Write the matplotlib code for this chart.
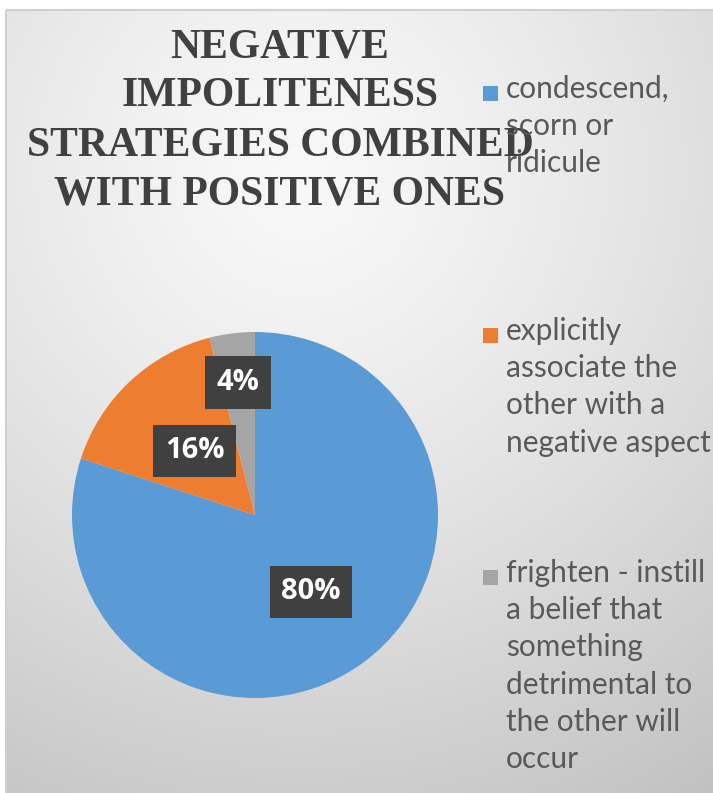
import numpy as np
import matplotlib.pyplot as plt
from matplotlib.patches import Rectangle

plt.rcParams['font.serif'] = ['Liberation Serif', 'Times New Roman', 'Nimbus Roman', 'DejaVu Serif']

# -----------------------------
# Data
# -----------------------------
title_lines = ['NEGATIVE', 'IMPOLITENESS', 'STRATEGIES COMBINED', 'WITH POSITIVE ONES']
labels = [
    'condescend,\nscorn or\nridicule',
    'explicitly\nassociate the\nother with a\nnegative aspect',
    'frighten - instill\na belief that\nsomething\ndetrimental to\nthe other will\noccur',
]
shares = [80, 16, 4]
colors = ['#5B9BD5', '#ED7D31', '#A5A5A5']
label_dist = [0.52, 0.48, 0.73]   # how far out each data label sits

W, H = 713, 793
fig = plt.figure(figsize=(W / 100, H / 100), dpi=100)

# -----------------------------
# Background: gray radial gradient panel
# -----------------------------
bg = fig.add_axes([0, 0, 1, 1])
yy, xx = np.mgrid[0:H, 0:W]
r = np.hypot(xx - 300, yy - 170)
shade = np.clip(0.975 - 0.2 * (r / 700) ** 1.3, 0.76, 0.98)
img = np.dstack([shade, shade, shade])
img[:10, :, :] = 1.0
img[:, :6, :] = 1.0
bg.imshow(img, extent=(0, W, H, 0), aspect='auto', interpolation='bilinear')
bg.add_patch(Rectangle((6, 10), W, H, fill=False, edgecolor='#d0d0d0', linewidth=1.5))
bg.set_xlim(0, W)
bg.set_ylim(H, 0)
bg.axis('off')

# -----------------------------
# Pie
# -----------------------------
cx, cy, R = 255, 515, 183
ax = fig.add_axes([(cx - R) / W, (H - cy - R) / H, 2 * R / W, 2 * R / H])
wedges, _ = ax.pie(shares, colors=colors, startangle=90, counterclock=False,
                   wedgeprops=dict(linewidth=0))
ax.set_xlim(-1, 1)
ax.set_ylim(-1, 1)
ax.set_aspect('equal')

for w, v, d in zip(wedges, shares, label_dist):
    mid = np.deg2rad((w.theta1 + w.theta2) / 2)
    ax.text(d * np.cos(mid), d * np.sin(mid), f'{v}%', ha='center', va='center',
            fontsize=21, fontweight='bold', color='white', family='Open Sans',
            bbox=dict(boxstyle='square,pad=0.4', facecolor='#404040', edgecolor='none'))

# -----------------------------
# Title (one text per line, fixed pitch)
# -----------------------------
for i, line in enumerate(title_lines):
    bg.text(280, 57 + i * 49.3, line, ha='center', va='baseline', family='serif',
            fontweight='bold', fontsize=30, color='#404040')

# -----------------------------
# Legend (entries spread evenly down the right side)
# -----------------------------
top0, step = 94, 242
for i, (lab, c) in enumerate(zip(labels, colors)):
    y = top0 + i * step
    bg.add_patch(Rectangle((483, y - 8), 15, 15, facecolor=c, edgecolor='none'))
    bg.text(506, y - 19, lab, ha='left', va='top', family='Lato', fontsize=21.5,
            color='#595959', linespacing=1.4)

fig.savefig('out.png', dpi=100)
